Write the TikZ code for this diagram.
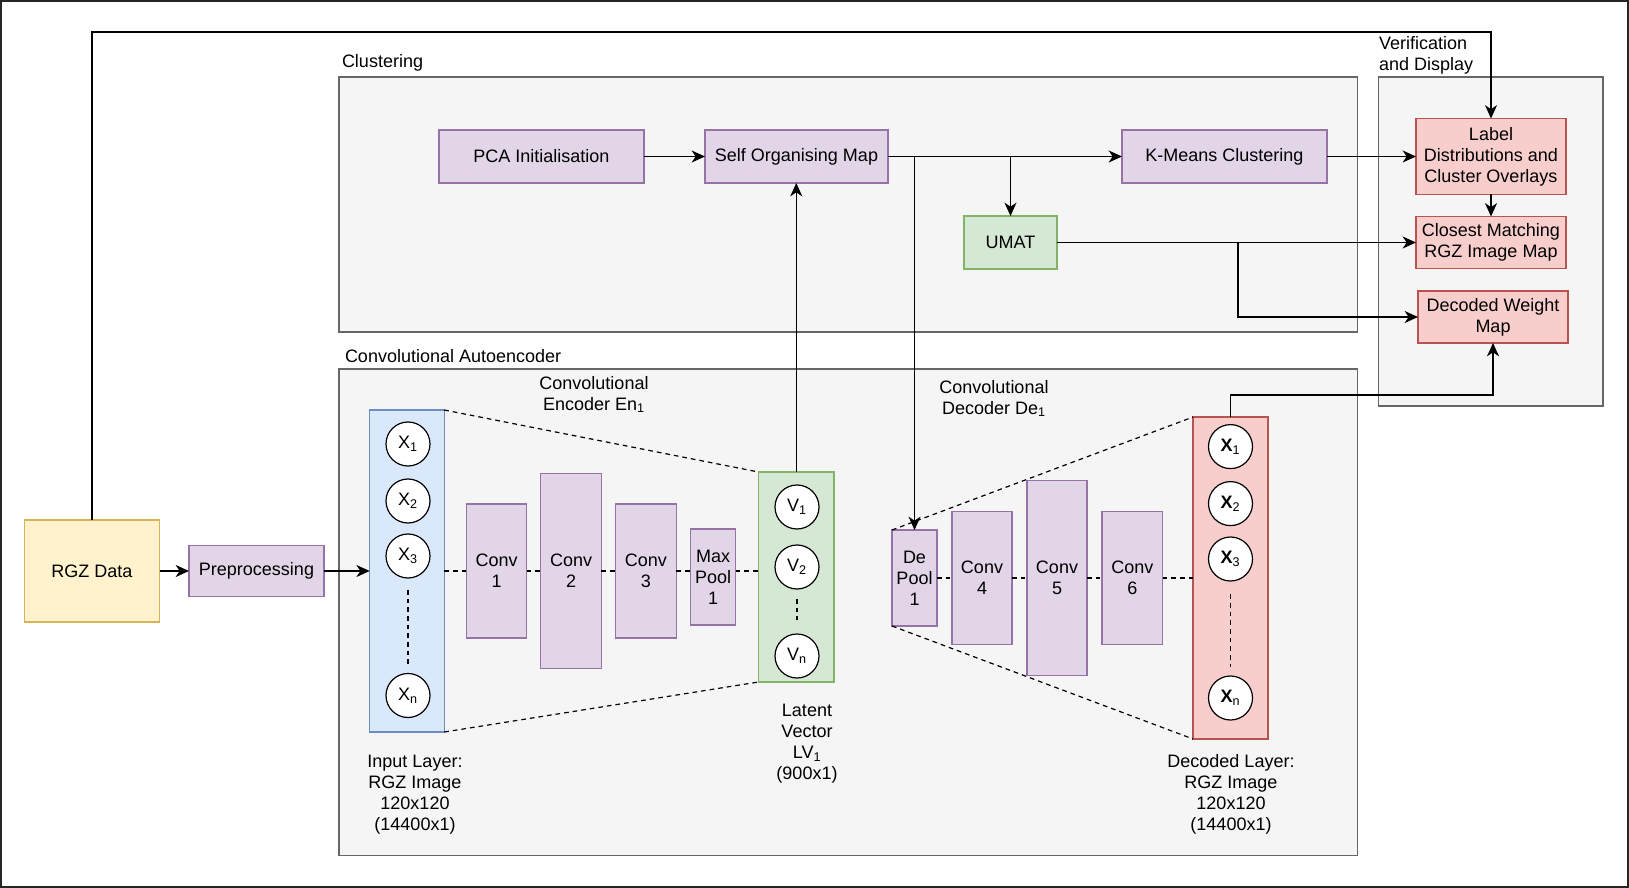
\documentclass[tikz,border=0pt]{standalone}
\usepackage{fontspec}
\setmainfont{Liberation Sans}
\usetikzlibrary{arrows.meta}
\usetikzlibrary{positioning}

\definecolor{purplefill}{HTML}{E1D5E7}
\definecolor{purpleline}{HTML}{9673A6}
\definecolor{greenfill}{HTML}{D5E8D4}
\definecolor{greenline}{HTML}{82B366}
\definecolor{redfill}{HTML}{F8CECC}
\definecolor{redline}{HTML}{B85450}
\definecolor{bluefill}{HTML}{DAE8FC}
\definecolor{blueline}{HTML}{6C8EBF}
\definecolor{yellowfill}{HTML}{FFF2CC}
\definecolor{yellowline}{HTML}{D6B656}
\definecolor{groupfill}{HTML}{F5F5F5}
\definecolor{groupline}{HTML}{666666}

\begin{document}
\begin{tikzpicture}[x=0.75pt,y=-0.75pt,->,>={Stealth[length=10pt,width=9pt,inset=3pt]},line width=1.1pt,
  font=\fontsize{13.5}{15.75}\selectfont,
  every node/.style={inner sep=0pt,outer sep=0pt,align=center},
  group/.style={-,draw=groupline,fill=groupfill,line width=1pt},
  box/.style={draw=purpleline,fill=purplefill,line width=0.9pt,minimum height=39.75pt},
  umatbox/.style={box,draw=greenline,fill=greenfill},
  outbox/.style={box,draw=redline,fill=redfill,minimum width=112.5pt,minimum height=39pt},
  conv/.style={box,minimum width=45.4pt,minimum height=100.5pt},
  pool/.style={box,minimum width=33.75pt,minimum height=72pt},
  neuron/.style={circle,draw=black,fill=white,line width=0.9pt,minimum size=33pt},
  dashline/.style={-,dash pattern=on 3.5pt off 3pt,line width=0.9pt}]
\useasboundingbox (0,0) rectangle (1629,888);
\draw[-,line width=1.4pt,draw=black!85] (1,1) rectangle (1628,887);

% groups
\draw[group] (339,77) rectangle (1357.6,332);
\draw[group] (1378.5,77) rectangle (1603,406);
\draw[group] (339,369) rectangle (1357.6,855.5);
\node[anchor=west] (clusterlbl) at (342,63) {Clustering};
\node[anchor=west,align=left] (verlbl) at (1379,55.5) {Verification\\and Display};
\node[anchor=west] (caelbl) at (345,356) {Convolutional Autoencoder};

% clustering
\node[box,minimum width=153.75pt] (pca) at (541.5,156.5) {PCA Initialisation};
\node[box,minimum width=137.25pt] (som) at (796.5,156.5) {Self Organising Map};
\node[box,minimum width=153.75pt] (kmeans) at (1224.5,156.5) {K-Means Clustering};
\node[umatbox,minimum width=69.75pt] (umat) at (1010.5,242.5) {UMAT};

% verification
\node[outbox,minimum height=57pt] (labeldist) at (1491,156.5) {Label\\Distributions and\\Cluster Overlays};
\node[outbox] (closest) at (1491,242.5) {Closest Matching\\RGZ Image Map};
\node[outbox] (decw) at (1493,317) {Decoded Weight\\Map};

% input
\node[box,draw=yellowline,fill=yellowfill,minimum width=101.25pt,minimum height=76.5pt] (rgz) at (92,571) {RGZ Data};
\node[box,minimum width=101.25pt,minimum height=38.6pt] (prep) at (256.5,571) {Preprocessing};

% encoder
\node[box,draw=blueline,fill=bluefill,minimum width=55.9pt,minimum height=241.5pt] (inlayer) at (407,571) {};
\node[conv] (conv1) [right=16.5pt of inlayer] {Conv\\1};
\node[conv,minimum height=146.25pt] (conv2) [right=10.5pt of conv1] {Conv\\2};
\node[conv] (conv3) [right=10.75pt of conv2] {Conv\\3};
\node[pool] (maxpool) [right=10.75pt of conv3,yshift=-4.5pt] {Max\\Pool\\1};
\node[box,draw=greenline,fill=greenfill,minimum width=56.6pt,minimum height=157.5pt] (latent) [right=17.25pt of maxpool] {};

\node[neuron] (x1) at (408,444) {X\textsubscript{1}};
\node[neuron] (x2) at (408,501) {X\textsubscript{2}};
\node[neuron] (x3) at (408,556) {X\textsubscript{3}};
\node[neuron] (xn) at (408,695.5) {X\textsubscript{n}};
\node[neuron] (v1) at (797,507) {V\textsubscript{1}};
\node[neuron] (v2) at (797,567) {V\textsubscript{2}};
\node[neuron] (vn) at (797,656) {V\textsubscript{n}};

% decoder
\node[pool] (depool) at (914.5,578) {De\\Pool\\1};
\node[conv,minimum width=45pt,minimum height=99.75pt] (conv4) [right=11.25pt of depool] {Conv\\4};
\node[conv,minimum width=45pt,minimum height=145.9pt] (conv5) [right=11.25pt of conv4] {Conv\\5};
\node[conv,minimum height=99.75pt] (conv6) [right=11.25pt of conv5] {Conv\\6};
\node[box,draw=redline,fill=redfill,minimum width=56.25pt,minimum height=241.5pt] (outlayer) [right=22.9pt of conv6] {};

\node[neuron] (y1) at (1230.5,446.6) {\textbf{X}\textsubscript{1}};
\node[neuron] (y2) at (1230.5,503.6) {\textbf{X}\textsubscript{2}};
\node[neuron] (y3) at (1230.5,559) {\textbf{X}\textsubscript{3}};
\node[neuron] (yn) at (1230.5,698) {\textbf{X}\textsubscript{n}};

% labels
\node (enclbl) at (594,394.5) {Convolutional\\Encoder En\textsubscript{1}};
\node (declbl) at (994,398.5) {Convolutional\\Decoder De\textsubscript{1}};
\node (inlbl) at (415,794.5) {Input Layer:\\RGZ Image\\120x120\\(14400x1)};
\node (latlbl) at (807,744) {Latent\\Vector\\LV\textsubscript{1}\\(900x1)};
\node (outlbl) at (1231,794.5) {Decoded Layer:\\RGZ Image\\120x120\\(14400x1)};

% dashed links
\path[dashline] (inlayer.north east) edge (latent.north west)
  (inlayer.south east) edge (latent.south west)
  (inlayer) edge (conv1)
  (conv1) edge (conv2)
  (conv2.east |- conv3.east) edge (conv3)
  (conv3.east) edge (conv3.east -| maxpool.west)
  (maxpool.east |- conv3.east) edge (latent.west |- conv3.east)
  (depool.north west) edge (outlayer.north west)
  (depool.south west) edge (outlayer.south west)
  (depool) edge (conv4)
  (conv4) edge (conv5)
  (conv5) edge (conv6)
  (conv6) edge (outlayer)
  (x3) edge[shorten <=9pt,shorten >=7pt] (xn)
  (v2) edge[shorten <=7.5pt,shorten >=10.5pt] (vn)
  (y3) edge[shorten <=10pt,shorten >=7pt] (yn);

% arrows
\path (rgz) edge (prep)
  (prep) edge (inlayer)
  (pca) edge (som)
  (som) edge (kmeans)
  (kmeans) edge (labeldist)
  (labeldist) edge (closest)
  (umat) edge (closest)
  (latent.north) edge (latent.north |- som.south)
  (som.east -| umat.north) edge (umat)
  (som.east -| depool.north) edge (depool.north);
\draw (rgz.north) -- ++(0,-488) -| (labeldist.north);
\draw (umat.east) ++(181,0) |- (decw.west);
\draw (outlayer.north) -- ++(0,-22) -| (decw.south);
\end{tikzpicture}
\end{document}
